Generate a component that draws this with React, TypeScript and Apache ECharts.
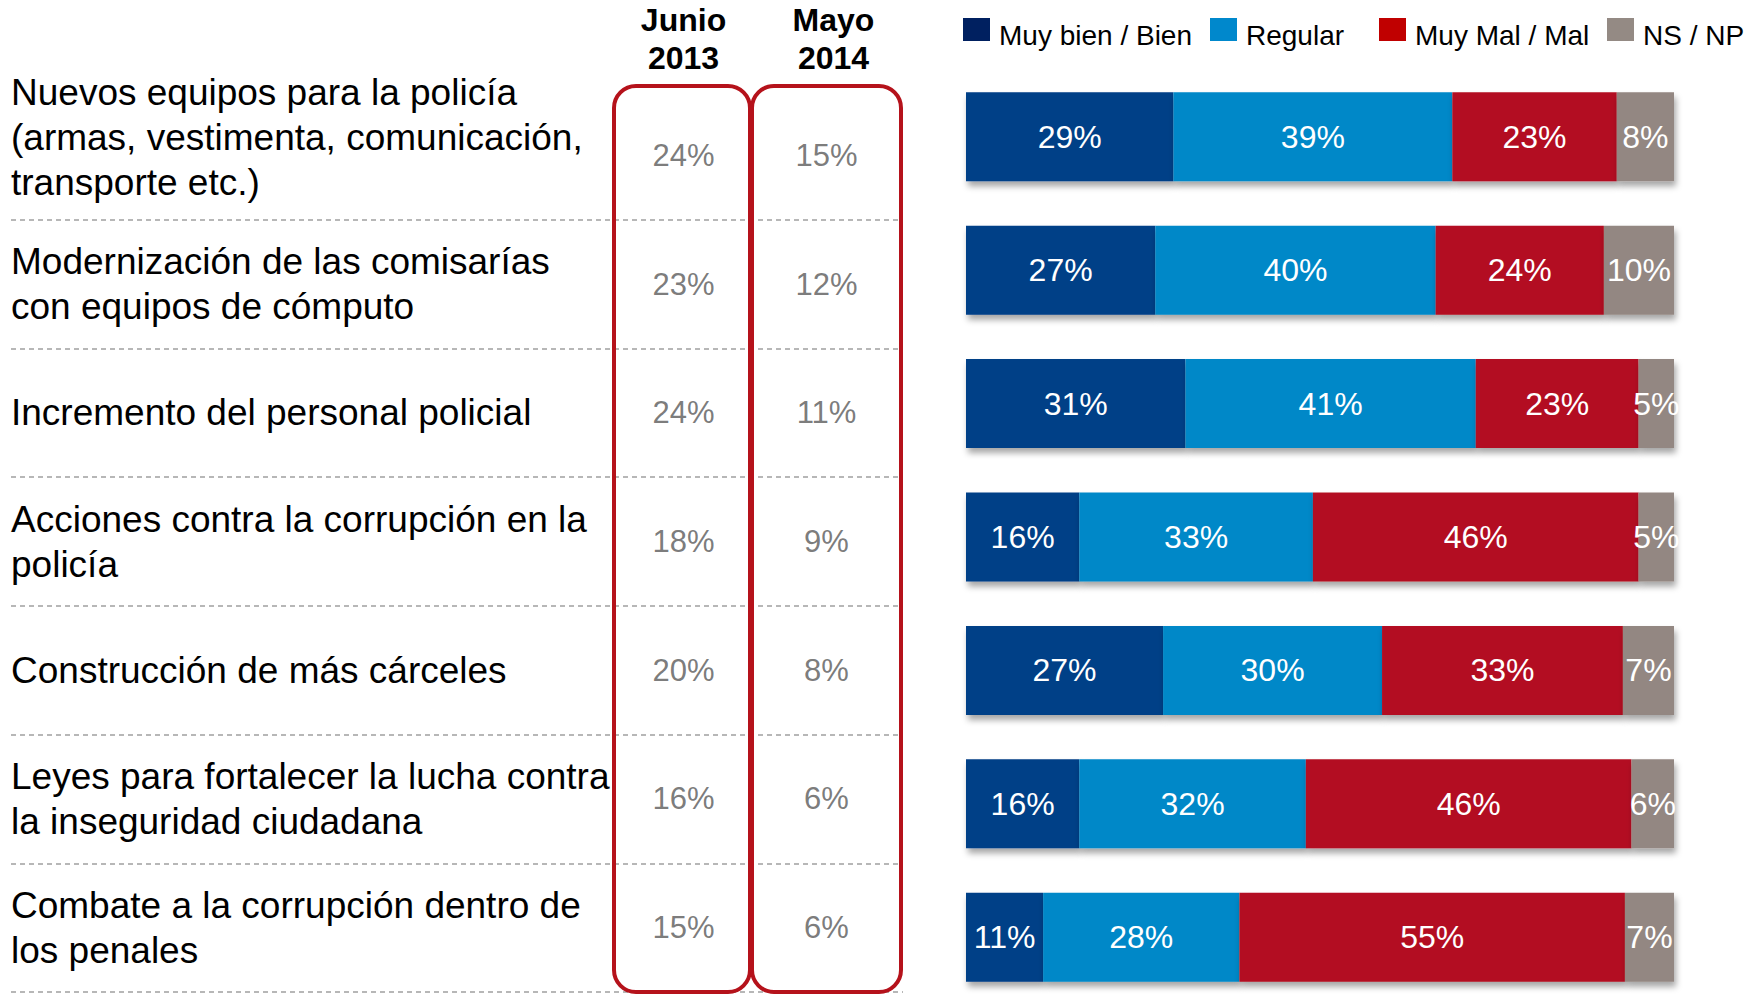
import React, { useEffect, useRef } from 'react';
import * as echarts from 'echarts';

const categories = [
  'Nuevos equipos para la policía\n(armas, vestimenta, comunicación,\ntransporte etc.)',
  'Modernización de las comisarías\ncon equipos de cómputo',
  'Incremento del personal policial',
  'Acciones contra la corrupción en la\npolicía',
  'Construcción de más cárceles',
  'Leyes para fortalecer la lucha contra\nla inseguridad ciudadana',
  'Combate a la corrupción dentro de\nlos penales',
];
const columnHeaders = ['Junio\n2013', 'Mayo\n2014'];
const junio2013 = [24, 23, 24, 18, 20, 16, 15];
const mayo2014 = [15, 12, 11, 9, 8, 6, 6];

const seriesNames = ['Muy bien / Bien', 'Regular', 'Muy Mal / Mal', 'NS / NP'];
const muyBien = [29, 27, 31, 16, 27, 16, 11];
const regular = [39, 40, 41, 33, 30, 32, 28];
const muyMal = [23, 24, 23, 46, 33, 46, 55];
const nsnp = [8, 10, 5, 5, 7, 6, 7];

const barColors = ['#003f87', '#0088c8', '#b31021', '#938782'];
const legendColors = ['#002060', '#0088cc', '#c00000', '#948a84'];
const legendLefts = [963, 1210, 1379, 1607];

const FONT = "'Liberation Sans', Arial, Helvetica, sans-serif";

export default function App() {
  const ref = useRef<HTMLDivElement>(null);
  useEffect(() => {
    if (!ref.current) return;
    const chart = echarts.init(ref.current, undefined, { renderer: 'svg' });
    const groups = [muyBien, regular, muyMal, nsnp];
    const rowSums = categories.map((_, i) => groups.reduce((s, g) => s + g[i], 0));

    const barSeries = groups.map((g, k) => ({
      name: seriesNames[k],
      type: 'bar',
      stack: 'total',
      xAxisIndex: 0,
      yAxisIndex: 0,
      barWidth: 89,
      data: g.map((v, i) => (v / rowSums[i]) * 100),
      itemStyle: {
        color: barColors[k],
        shadowColor: 'rgba(0,0,0,0.35)',
        shadowBlur: 6,
        shadowOffsetX: 2,
        shadowOffsetY: 5,
      },
      label: {
        show: true,
        position: 'inside',
        color: '#ffffff',
        fontSize: 32,
        fontFamily: FONT,
        formatter: (p: any) => g[p.dataIndex] + '%',
      },
    }));

    const colSeries = [junio2013, mayo2014].map((arr, c) => ({
      name: columnHeaders[c],
      type: 'scatter',
      xAxisIndex: 2,
      yAxisIndex: 2,
      symbolSize: 1,
      itemStyle: { color: 'rgba(0,0,0,0)' },
      data: arr.map((v, i) => [c, i, v]),
      label: {
        show: true,
        position: 'inside',
        color: '#595959',
        fontSize: 31,
        fontFamily: FONT,
        formatter: (p: any) => p.value[2] + '%',
      },
    }));

    chart.setOption({
      animation: false,
      textStyle: { fontFamily: FONT },
      legend: seriesNames.map((n, k) => ({
        data: [{ name: n, itemStyle: { color: legendColors[k] } }],
        left: legendLefts[k],
        top: 18,
        padding: 0,
        icon: 'path://M0,0L27,0L27,23L0,23Z M0,35',
        itemWidth: 27,
        itemHeight: 35,
        selectedMode: false,
        textStyle: { fontSize: 28, color: '#000', fontFamily: FONT, padding: [0, 0, 0, 4] },
      })),
      grid: [
        { left: 966, width: 708, top: 70, height: 934, outerBoundsMode: 'none' },
        { left: 11, width: 892, top: 91, height: 901, outerBoundsMode: 'none' },
        { left: 612, width: 286, top: 91, height: 901, outerBoundsMode: 'none' },
      ],
      xAxis: [
        { gridIndex: 0, type: 'value', min: 0, max: 100, show: false },
        { gridIndex: 1, type: 'value', min: 0, max: 1, show: false },
        {
          gridIndex: 2,
          type: 'category',
          data: columnHeaders,
          position: 'top',
          axisLine: { show: false },
          axisTick: { show: false },
          splitLine: { show: false },
          axisLabel: {
            interval: 0,
            showMinLabel: true,
            showMaxLabel: true,
            hideOverlap: false,
            fontSize: 32,
            fontWeight: 'bold',
            lineHeight: 38,
            color: '#000',
            fontFamily: FONT,
            margin: 14,
            formatter: (v: string, i: number) =>
              i === 1 ? v.split('\n').map((l) => `{m|${l}}`).join('\n') : v,
            rich: {
              m: {
                fontSize: 32,
                fontWeight: 'bold',
                lineHeight: 38,
                color: '#000',
                fontFamily: FONT,
                padding: [0, 0, 0, 14],
              },
            },
          },
        },
      ],
      yAxis: [
        { gridIndex: 0, type: 'category', data: categories, inverse: true, show: false },
        {
          gridIndex: 1,
          type: 'category',
          data: categories,
          inverse: true,
          axisLine: { show: false },
          axisTick: { show: false },
          axisLabel: {
            inside: true,
            interval: 0,
            showMinLabel: true,
            showMaxLabel: true,
            margin: 0,
            align: 'left',
            fontSize: 37,
            lineHeight: 45,
            color: '#000',
            fontFamily: FONT,
            formatter: (v: string, i: number) => (i === 0 ? v + '\n{s| }' : v),
            rich: { s: { lineHeight: 36, fontSize: 10 } },
          },
          splitLine: {
            show: true,
            interval: (idx: number) => idx !== 0,
            lineStyle: { type: [5, 4], color: '#a0a0a0', width: 1.5 },
          },
        },
        { gridIndex: 2, type: 'category', data: categories, inverse: true, show: false },
      ],
      graphic: [
        {
          type: 'rect',
          shape: { x: 614, y: 86, width: 136, height: 906, r: 22 },
          style: { fill: 'none', stroke: '#b5121b', lineWidth: 4 },
          z: 10,
        },
        {
          type: 'rect',
          shape: { x: 752, y: 86, width: 149, height: 906, r: 22 },
          style: { fill: 'none', stroke: '#b5121b', lineWidth: 4 },
          z: 10,
        },
      ],
      series: [...barSeries, ...colSeries],
    });
    return () => chart.dispose();
  }, []);
  return (
    <div
      ref={ref}
      style={{ position: 'fixed', left: 0, top: 0, width: 1758, height: 995, background: '#fff' }}
    />
  );
}
